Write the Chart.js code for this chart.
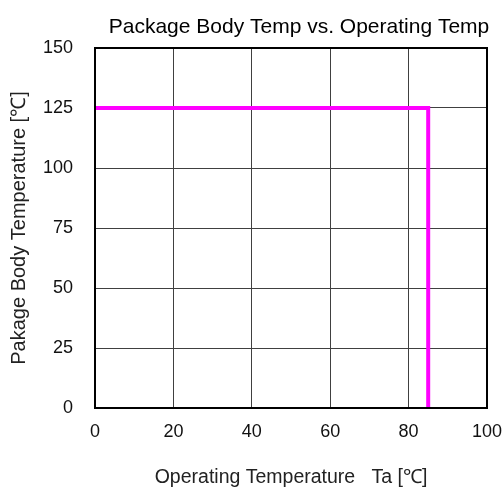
<!DOCTYPE html>
<html lang="en">
<head>
  <meta charset="UTF-8" />
  <title>Package Body Temp vs. Operating Temp</title>
  <script src="https://cdn.jsdelivr.net/npm/chart.js"></script>
  <style>
    html, body { margin: 0; padding: 0; background: #fff; }
    #wrap { width: 504px; height: 489px; }
  </style>
</head>
<body>
  <div id="wrap"><canvas id="chart" width="504" height="489"></canvas></div>
  <script>
    // derating curve: operating temp (x) vs package body temp (y)
    const opTemp   = [0, 85, 85];
    const bodyTemp = [125, 125, 0];
    const xTicks = [0, 20, 40, 60, 80, 100];
    const yTicks = [0, 25, 50, 75, 100, 125, 150];

    const FONT = "'Liberation Sans', Arial, sans-serif";

    // chart title (sits a bit right of centre in the original) + frame around the plot
    const extras = {
      id: 'extras',
      afterDraw(chart) {
        const ctx = chart.ctx;
        const a = chart.chartArea;
        ctx.save();
        ctx.strokeStyle = '#000';
        ctx.lineWidth = 2;
        ctx.strokeRect(a.left, a.top, a.right - a.left, a.bottom - a.top);
        ctx.fillStyle = '#000';
        ctx.textAlign = 'center';
        ctx.textBaseline = 'middle';
        ctx.font = '21px ' + FONT;
        ctx.fillText('Package Body Temp vs. Operating Temp', 299, 27);
        ctx.restore();
      }
    };

    new Chart(document.getElementById('chart'), {
      type: 'scatter',
      data: {
        datasets: [{
          data: opTemp.map((x, i) => ({ x: x, y: bodyTemp[i] })),
          showLine: true,
          borderColor: '#ff00ff',
          borderWidth: 4,
          pointRadius: 0,
          tension: 0
        }]
      },
      options: {
        responsive: false,
        animation: false,
        layout: { padding: { top: 48, right: 17, left: 0, bottom: 0 } },
        plugins: { legend: { display: false }, tooltip: { enabled: false }, title: { display: false } },
        scales: {
          x: {
            type: 'linear', min: 0, max: 100,
            afterBuildTicks: s => { s.ticks = xTicks.map(v => ({ value: v })); },
            afterFit: s => { s.height = 81; s.paddingLeft = 0; s.paddingRight = 0; },
            grid: { color: '#404040', lineWidth: 1, drawTicks: false },
            border: { color: '#000', width: 2 },
            ticks: { color: '#111', font: { family: FONT, size: 18 }, padding: 13 },
            title: {
              display: true,
              text: 'Operating Temperature   Ta [℃]',
              color: '#222', font: { family: FONT, size: 19.5 }, padding: { top: 0, bottom: 0 }
            }
          },
          y: {
            type: 'linear', min: 0, max: 150,
            afterBuildTicks: s => { s.ticks = yTicks.map(v => ({ value: v })); },
            afterFit: s => { s.width = 95; s.paddingTop = 0; s.paddingBottom = 0; },
            grid: { color: '#404040', lineWidth: 1, drawTicks: false },
            border: { color: '#000', width: 2 },
            ticks: { color: '#111', font: { family: FONT, size: 18 }, padding: 22 },
            title: {
              display: true,
              text: 'Pakage Body Temperature [℃]',
              color: '#222', font: { family: FONT, size: 20 }, padding: { top: 7, bottom: 0 }
            }
          }
        }
      },
      plugins: [extras]
    });
  </script>
</body>
</html>
